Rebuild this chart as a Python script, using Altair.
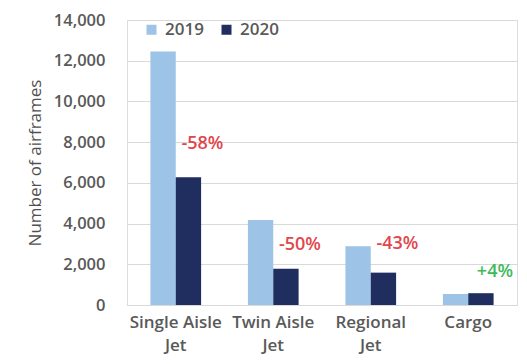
import altair as alt
import pandas as pd

categories = ["Single Aisle Jet", "Twin Aisle Jet", "Regional Jet", "Cargo"]
cat_lines = [["Single Aisle", "Jet"], ["Twin Aisle", "Jet"], ["Regional", "Jet"], ["Cargo"]]
values_2019 = [12450, 4180, 2890, 540]
values_2020 = [6280, 1780, 1590, 580]
change_labels = ["-58%", "-50%", "-43%", "+4%"]
label_y = [7900, 2950, 3000, 1600]
label_colors = ["#e0474c", "#e0474c", "#e0474c", "#3dbb5a"]

rows = []
for c, a, b in zip(categories, values_2019, values_2020):
    rows.append({"category": c, "year": "2019", "value": a})
    rows.append({"category": c, "year": "2020", "value": b})
df = pd.DataFrame(rows)
lab = pd.DataFrame({"category": categories, "label": change_labels, "y": label_y,
                    "color": label_colors, "year": ["2020"] * 4})

FONT = "Open Sans"
label_expr = "{" + ", ".join(
    f"'{c}': {lines}".replace('"', "'") for c, lines in zip(categories, cat_lines)
) + "}[datum.value]"

x_axis = alt.Axis(title=None, labelAngle=0, labelExpr=label_expr, labelFontSize=17,
                  labelColor="#595959", labelFont=FONT, labelFontWeight=600,
                  ticks=False, domain=True,
                  domainColor="#d9d9d9", labelPadding=9, labelLineHeight=23)
y_axis = alt.Axis(title="Number of airframes", values=list(range(0, 14001, 2000)),
                  format=",d", ticks=False, domain=False, gridColor="#d9d9d9",
                  labelFontSize=16.5, labelColor="#595959", labelFont=FONT,
                  labelFontWeight=600,
                  labelPadding=22, titleFont=FONT, titleFontSize=17,
                  titleFontWeight="normal", titleColor="#505050", titlePadding=9)
x_scale = alt.Scale(paddingInner=0.48, paddingOuter=0.24)
y_scale = alt.Scale(domain=[0, 14000])

bars = alt.Chart(df).mark_bar().encode(
    x=alt.X("category:N", sort=categories, scale=x_scale, axis=x_axis),
    xOffset=alt.XOffset("year:N", sort=["2019", "2020"]),
    y=alt.Y("value:Q", scale=y_scale, axis=y_axis),
    color=alt.Color("year:N", scale=alt.Scale(domain=["2019", "2020"], range=["#9dc3e6", "#1f2d5f"]),
                    legend=alt.Legend(title=None, orient="none", legendX=16, legendY=1,
                                      direction="horizontal", symbolType="square", symbolSize=100,
                                      labelFontSize=17, labelColor="#595959", labelFont=FONT,
                                      labelFontWeight=600, labelOffset=5,
                                      columnPadding=14, symbolStrokeWidth=0)),
)

text = alt.Chart(lab).mark_text(fontSize=18, font=FONT, fontWeight=600, dx=14, align="center").encode(
    x=alt.X("category:N", sort=categories, scale=x_scale, axis=x_axis),
    xOffset=alt.XOffset("year:N", sort=["2019", "2020"]),
    y=alt.Y("y:Q", scale=y_scale, axis=y_axis),
    text="label:N",
    color=alt.Color("color:N", scale=None),
)

chart = alt.layer(bars, text).properties(
    width=390, height=285,
    autosize=alt.AutoSizeParams(type="none"),
    padding={"left": 119, "top": 12, "right": 2, "bottom": 50},
).configure_view(strokeWidth=0).configure(background="white")

chart.save("out.html", embed_options={"renderer": "svg", "actions": False})
